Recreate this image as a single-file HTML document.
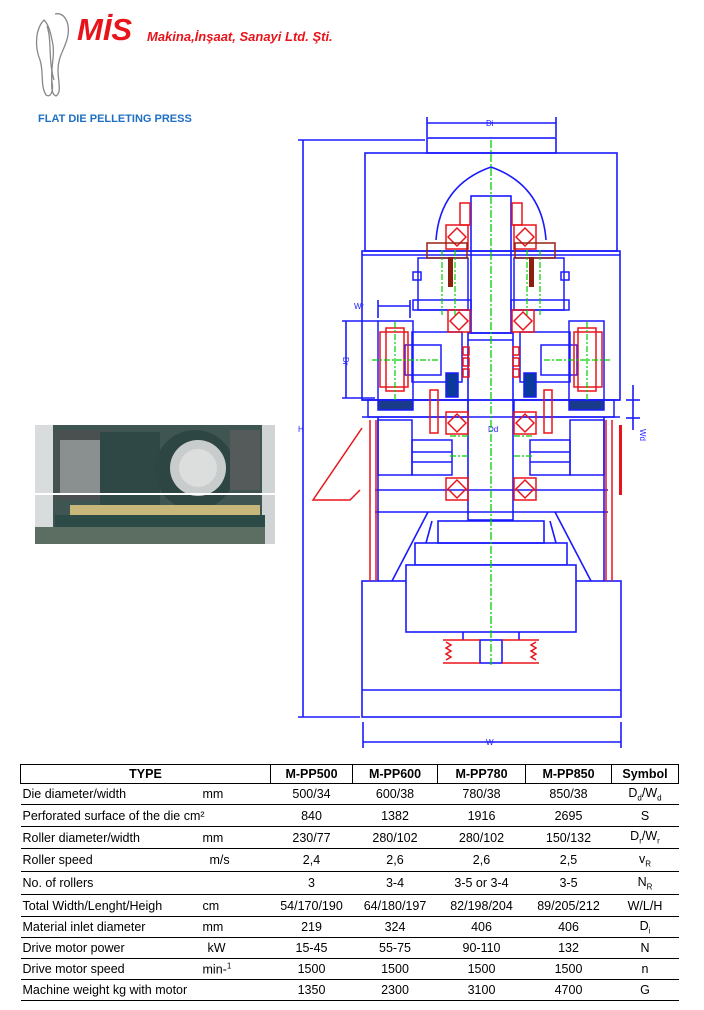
<!DOCTYPE html>
<html><head><meta charset="utf-8"><style>
body{margin:0;width:704px;height:1010px;background:#fff;position:relative;overflow:hidden;font-family:"Liberation Sans",sans-serif}
.abs{position:absolute}
table{position:absolute;left:20px;top:764px;border-collapse:collapse;font-family:"Liberation Sans",sans-serif;font-size:12.5px;color:#000}
td{padding:0;height:20px;border-bottom:1px solid #000;text-align:center;white-space:nowrap}
tr.h td{border:1.5px solid #000;font-weight:bold;height:18px}
td.l{text-align:left;padding-left:2px;position:relative}
.u{position:absolute;top:50%;transform:translateY(-50%)}
sub{font-size:8px}
</style></head><body>
<svg class="abs" style="left:0;top:0" width="704" height="1010" viewBox="0 0 704 1010">
<g fill="none" stroke="#888" stroke-width="1.3">
<path d="M44 20 C36 28 34 45 40 60 C44 72 40 85 46 95 C50 98 54 92 52 82 C50 68 56 55 52 40 C50 30 48 24 44 20Z"/>
<path d="M55 14 C64 12 70 22 68 35 C66 48 58 55 58 70 C58 82 62 92 56 96 C50 94 52 82 52 70"/>
<path d="M47 26 C52 40 48 60 54 80"/>
</g>
<text x="77" y="40" font-family="Liberation Sans" font-weight="bold" font-style="italic" font-size="31" fill="#e8141b">MİS</text>
<text x="147" y="41" font-family="Liberation Sans" font-weight="bold" font-style="italic" font-size="13" fill="#e8141b">Makina,İnşaat,  Sanayi Ltd. Şti.</text>
<text x="38" y="122" font-family="Liberation Sans" font-weight="bold" font-size="11" fill="#1f6fc4">FLAT DIE PELLETING  PRESS</text>

<rect x="35" y="425" width="240" height="119" fill="#3f5552"/>
<rect x="35" y="425" width="18" height="119" fill="#d8dcdc"/>
<rect x="262" y="425" width="13" height="119" fill="#d0d4d4"/>
<rect x="55" y="430" width="55" height="70" fill="#4a4f50"/>
<rect x="60" y="440" width="40" height="55" fill="#8a8f8f"/>
<rect x="100" y="432" width="60" height="75" fill="#2f4845"/>
<circle cx="195" cy="470" r="40" fill="#2e4643"/>
<circle cx="198" cy="468" r="28" fill="#c9cccc"/>
<circle cx="198" cy="468" r="19" fill="#dcdede"/>
<rect x="230" y="430" width="30" height="60" fill="#555b5b"/>
<rect x="70" y="505" width="190" height="12" fill="#c8b77a"/>
<rect x="55" y="515" width="210" height="12" fill="#2c4b47"/>
<rect x="35" y="527" width="230" height="17" fill="#5c6e62"/>
<rect x="35" y="493" width="240" height="2" fill="#fff"/>

<g fill="none" stroke="#1a1aff" stroke-width="1.6">
<line x1="303" y1="140" x2="303" y2="717"/>
<line x1="298" y1="140" x2="425" y2="140"/>
<line x1="298" y1="717" x2="360" y2="717"/>
<line x1="427" y1="123" x2="556" y2="123"/>
<line x1="427" y1="117" x2="427" y2="137"/><line x1="556" y1="117" x2="556" y2="137"/>
<line x1="363" y1="742" x2="621" y2="742"/>
<line x1="363" y1="722" x2="363" y2="748"/><line x1="621" y1="722" x2="621" y2="748"/>
<rect x="427" y="138" width="129" height="15"/>
<rect x="365" y="153" width="252" height="98"/>
<path d="M436 240 Q440 185 491 167 Q542 185 546 240"/>
<rect x="362" y="251" width="258" height="149"/>
<line x1="362" y1="255" x2="620" y2="255"/>
<rect x="471" y="196" width="40" height="137"/>
<rect x="468" y="333" width="45" height="187"/>
<line x1="468" y1="340" x2="513" y2="340"/>
<line x1="362" y1="400" x2="620" y2="400"/>
<line x1="362" y1="417" x2="620" y2="417"/>
<line x1="375" y1="490" x2="608" y2="490"/>
<line x1="375" y1="512" x2="608" y2="512"/>
<line x1="378" y1="417" x2="378" y2="581"/><line x1="604" y1="417" x2="604" y2="581"/>
<line x1="428" y1="512" x2="392" y2="581"/><line x1="555" y1="512" x2="591" y2="581"/>
<rect x="438" y="521" width="106" height="22"/>
<path d="M432 521 L426 543 M550 521 L556 543"/>
<rect x="415" y="543" width="152" height="22"/>
<rect x="362" y="581" width="259" height="136"/>
<line x1="362" y1="690" x2="621" y2="690"/>
<rect x="406" y="565" width="170" height="67" fill="#fff"/>
<rect x="480" y="640" width="22" height="23"/>
<line x1="463" y1="632" x2="463" y2="640"/><line x1="519" y1="632" x2="519" y2="640"/>
<line x1="633" y1="385" x2="633" y2="430"/><line x1="626" y1="400" x2="640" y2="400"/><line x1="626" y1="418" x2="640" y2="418"/>
<line x1="378" y1="306" x2="410" y2="306"/><line x1="378" y1="300" x2="378" y2="318"/><line x1="410" y1="300" x2="410" y2="318"/>
<line x1="346" y1="321" x2="346" y2="398"/><line x1="342" y1="321" x2="378" y2="321"/><line x1="342" y1="398" x2="375" y2="398"/>
</g>
<g font-family="Liberation Sans" font-size="8" fill="#1a1aff">
<text x="486" y="126">Di</text><text x="488" y="432">Dd</text><text x="486" y="745">W</text>
<text x="354" y="309">Wr</text><text x="298" y="432">H</text>
<text x="342" y="362" transform="rotate(90 345 360)">Dr</text>
<text x="633" y="428" transform="rotate(90 636 432)">Wd</text>
</g>

<g id="half">
<g fill="none" stroke="#1a1aff" stroke-width="1.5">
<rect x="418" y="258" width="50" height="52"/>
<rect x="413" y="272" width="8" height="8"/><rect x="413" y="300" width="58" height="10"/>
<rect x="378" y="321" width="35" height="79"/>
<rect x="405" y="345" width="36" height="30"/>
<rect x="412" y="332" width="50" height="50"/>
<rect x="446" y="373" width="12" height="24" fill="#0a3a9a"/>
<rect x="378" y="400" width="35" height="10" fill="#1a3a8a"/>
<rect x="368" y="400" width="100" height="17"/>
<rect x="378" y="420" width="34" height="55"/>
<rect x="412" y="440" width="40" height="35"/>
<line x1="412" y1="452" x2="452" y2="452"/><line x1="412" y1="462" x2="452" y2="462"/>
</g>
<g fill="none" stroke="#e8141b" stroke-width="1.5">
<rect x="460" y="203" width="10" height="22"/>
<rect x="446" y="225" width="22" height="24"/><path d="M448 237 L457 228 L466 237 L457 246Z"/>
<rect x="427" y="243" width="40" height="15" stroke="#9a2010"/>
<rect x="448" y="310" width="22" height="22"/><path d="M450 321 L459 312 L468 321 L459 330Z"/>
<rect x="380" y="332" width="28" height="55"/><rect x="386" y="328" width="18" height="63"/>
<rect x="463" y="347" width="6" height="8"/><rect x="463" y="358" width="6" height="8"/><rect x="463" y="369" width="6" height="8"/>
<rect x="430" y="390" width="8" height="43"/>
<rect x="446" y="412" width="22" height="22"/><path d="M448 423 L457 414 L466 423 L457 432Z"/>
<rect x="446" y="478" width="22" height="22"/><path d="M448 489 L457 480 L466 489 L457 498Z"/>
<line x1="370" y1="420" x2="370" y2="581"/><line x1="376" y1="420" x2="376" y2="581"/>
<path d="M443 640 L480 640 M443 663 L480 663 M446 642 l5 3 -5 3 5 3 -5 3 5 3 -5 3"/>
</g>
<g stroke="#00d000" stroke-width="1.2" fill="none" stroke-dasharray="6 2 2 2">
<line x1="395" y1="322" x2="395" y2="400"/><line x1="372" y1="360" x2="440" y2="360"/>
<line x1="442" y1="250" x2="442" y2="315"/><line x1="455" y1="250" x2="455" y2="315"/>
<line x1="450" y1="436" x2="470" y2="436"/><line x1="450" y1="456" x2="470" y2="456"/>
</g>
<rect x="448" y="257" width="5" height="30" fill="#8a2010"/>
</g>
<use href="#half" transform="translate(982,0) scale(-1,1)"/>
<line x1="491" y1="140" x2="491" y2="665" stroke="#00d000" stroke-width="1.3" stroke-dasharray="8 2 2 2"/>
<path d="M362 428 L313 500 L350 500 L360 490" fill="none" stroke="#e8141b" stroke-width="1.5"/>
<rect x="619" y="425" width="3" height="70" fill="#e8141b"/>
</svg>

<table>
<colgroup><col style="width:250px"><col style="width:82px"><col style="width:85px"><col style="width:88px"><col style="width:86px"><col style="width:67px"></colgroup>
<tr class="h"><td>TYPE</td><td>M-PP500</td><td>M-PP600</td><td>M-PP780</td><td>M-PP850</td><td>Symbol</td></tr>
<tr><td class="l">Die diameter/width<span class="u" style="left:182px">mm</span></td><td>500/34</td><td>600/38</td><td>780/38</td><td>850/38</td><td>D<sub>d</sub>/W<sub>d</sub></td></tr>
<tr style="height:22px"><td class="l">Perforated surface of the die cm²</td><td>840</td><td>1382</td><td>1916</td><td>2695</td><td>S</td></tr>
<tr style="height:22px"><td class="l">Roller diameter/width<span class="u" style="left:182px">mm</span></td><td>230/77</td><td>280/102</td><td>280/102</td><td>150/132</td><td>D<sub>r</sub>/W<sub>r</sub></td></tr>
<tr style="height:23px"><td class="l">Roller speed<span class="u" style="left:189px">m/s</span></td><td>2,4</td><td>2,6</td><td>2,6</td><td>2,5</td><td>v<sub>R</sub></td></tr>
<tr style="height:23px"><td class="l">No. of rollers</td><td>3</td><td>3-4</td><td>3-5 or 3-4</td><td>3-5</td><td>N<sub>R</sub></td></tr>
<tr style="height:22px"><td class="l">Total Width/Lenght/Heigh<span class="u" style="left:182px">cm</span></td><td>54/170/190</td><td>64/180/197</td><td>82/198/204</td><td>89/205/212</td><td>W/L/H</td></tr>
<tr style="height:21px"><td class="l">Material inlet diameter<span class="u" style="left:182px">mm</span></td><td>219</td><td>324</td><td>406</td><td>406</td><td>D<sub>i</sub></td></tr>
<tr><td class="l">Drive motor  power<span class="u" style="left:187px">kW</span></td><td>15-45</td><td>55-75</td><td>90-110</td><td>132</td><td>N</td></tr>
<tr><td class="l">Drive motor speed<span class="u" style="left:182px">min-<sup style="font-size:8px">1</sup></span></td><td>1500</td><td>1500</td><td>1500</td><td>1500</td><td>n</td></tr>
<tr><td class="l">Machine weight kg with motor</td><td>1350</td><td>2300</td><td>3100</td><td>4700</td><td>G</td></tr>
</table>
</body></html>
